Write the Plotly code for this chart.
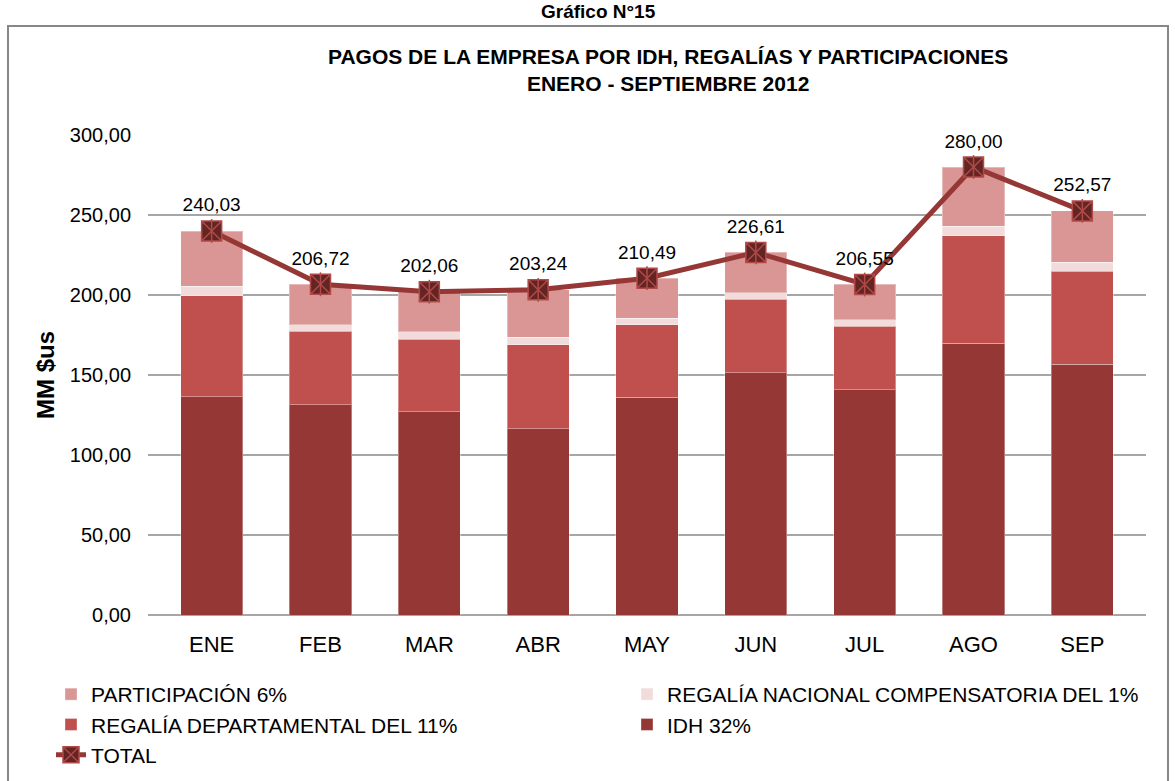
import plotly.graph_objects as go

months = ["ENE", "FEB", "MAR", "ABR", "MAY", "JUN", "JUL", "AGO", "SEP"]
idh = [136.5, 131.5, 127.1, 116.3, 136.0, 151.5, 140.8, 169.8, 156.7]
regalia_dep = [63.1, 45.8, 45.4, 52.7, 45.3, 45.8, 39.8, 67.1, 58.3]
regalia_nac = [6.0, 4.2, 4.4, 4.5, 4.2, 4.2, 3.8, 6.2, 5.4]
participacion = [34.4, 25.2, 25.2, 29.7, 25.0, 25.1, 22.2, 36.9, 32.2]
total = [240.03, 206.72, 202.06, 203.24, 210.49, 226.61, 206.55, 280.00, 252.57]
total_labels = ["240,03", "206,72", "202,06", "203,24", "210,49", "226,61", "206,55", "280,00", "252,57"]
y_ticks = [0, 50, 100, 150, 200, 250, 300]
y_tick_labels = ["0,00", "50,00", "100,00", "150,00", "200,00", "250,00", "300,00"]

FONT = "Liberation Sans, Arial, sans-serif"
W, H = 1175, 781
ML, MR, MT, MB = 148, 29, 135, 166
PW, PH = W - ML - MR, H - MT - MB


def px_x(p):
    return (p - ML) / PW


def px_y(p):
    return (H - MB - p) / PH


fig = go.Figure()
bar_line = dict(color="rgba(255,255,255,0.35)", width=1)
fig.add_trace(go.Bar(x=months, y=idh, name="IDH 32%", marker=dict(color="#953735", line=bar_line),
                     legend="legend2", legendgroup="g4", legendrank=2))
fig.add_trace(go.Bar(x=months, y=regalia_dep, name="REGALÍA DEPARTAMENTAL DEL 11%",
                     marker=dict(color="#C0504D", line=bar_line), legend="legend", legendgroup="g3", legendrank=2))
fig.add_trace(go.Bar(x=months, y=regalia_nac, name="REGALÍA NACIONAL COMPENSATORIA DEL 1%",
                     marker=dict(color="#F2DCDB", line=bar_line), legend="legend2", legendgroup="g2", legendrank=1))
fig.add_trace(go.Bar(x=months, y=participacion, name="PARTICIPACIÓN 6%",
                     marker=dict(color="#D99694", line=bar_line), legend="legend", legendgroup="g1", legendrank=1))
fig.add_trace(go.Scatter(
    x=months, y=total, name="TOTAL", mode="lines+markers",
    line=dict(color="#953735", width=5),
    marker=dict(symbol="square-x", size=20, color="#632523", line=dict(color="#B04A48", width=1.5)),
    legend="legend", legendgroup="g5", legendrank=3,
))
fig.add_trace(go.Scatter(
    x=months, y=total, mode="markers", showlegend=False, hoverinfo="skip",
    marker=dict(symbol="line-ns-open", size=17, color="#B04A48", line=dict(color="#B04A48", width=1.5)),
))
fig.add_trace(go.Scatter(
    x=months, y=total, mode="markers+text", showlegend=False, hoverinfo="skip",
    marker=dict(size=22, opacity=0),
    text=total_labels, textposition="top center",
    textfont=dict(family=FONT, size=19, color="#000000"),
))

legend_common = dict(orientation="v", xanchor="left", yanchor="top", font=dict(size=21),
                     tracegroupgap=0, bgcolor="rgba(0,0,0,0)", traceorder="grouped")

fig.update_layout(
    width=W, height=H,
    margin=dict(l=ML, r=MR, t=MT, b=MB, autoexpand=False),
    paper_bgcolor="white", plot_bgcolor="white",
    barmode="stack", bargap=0.43,
    font=dict(family=FONT, size=18, color="#000000"),
    xaxis=dict(showgrid=False, showline=False, ticks="", tickfont=dict(size=22), ticklabelstandoff=14,
               automargin=False),
    yaxis=dict(range=[0, 300], tickvals=y_ticks, ticktext=y_tick_labels, showgrid=True,
               gridcolor="#A6A6A6", gridwidth=1.5, zeroline=True, zerolinecolor="#A6A6A6", zerolinewidth=1.5,
               showline=False, ticks="", tickfont=dict(size=20), ticklabelstandoff=16, automargin=False,
               title=dict(text="<b>MM $us</b>", font=dict(size=24), standoff=8)),
    legend=dict(x=px_x(51), y=px_y(674), **legend_common),
    legend2=dict(x=px_x(627), y=px_y(674), **legend_common),
    showlegend=True,
    shapes=[dict(type="rect", xref="paper", yref="paper",
                 x0=px_x(8), x1=px_x(1168), y0=px_y(800), y1=px_y(26),
                 line=dict(color="#878787", width=2), fillcolor="rgba(0,0,0,0)", layer="below")],
    annotations=[
        dict(text="<b>PAGOS DE LA EMPRESA POR IDH, REGALÍAS Y PARTICIPACIONES<br>ENERO - SEPTIEMBRE 2012</b>",
             xref="paper", yref="paper", x=px_x(668), y=px_y(69.5),
             xanchor="center", yanchor="middle", showarrow=False, font=dict(size=21), align="center"),
        dict(text="<b>Gráfico N°15</b>", xref="paper", yref="paper",
             x=px_x(598), y=px_y(12), xanchor="center", yanchor="middle", showarrow=False, font=dict(size=19)),
    ],
)

fig.write_html("out.html", config={"displayModeBar": False},
               post_script="document.body.style.margin='0px';document.body.style.overflow='hidden';")
